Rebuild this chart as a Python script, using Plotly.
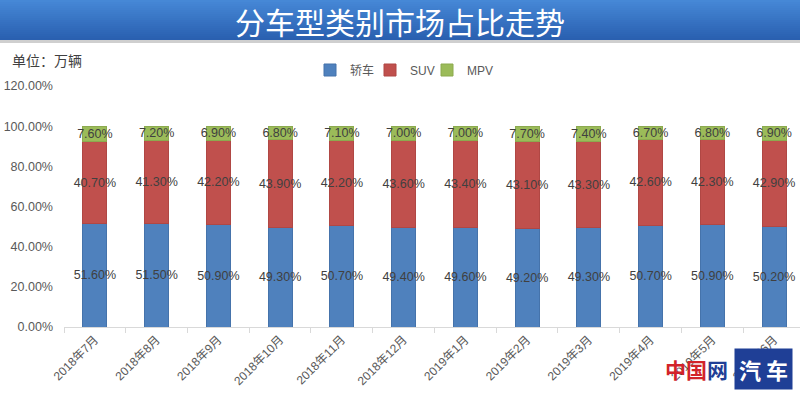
import plotly.graph_objects as go

months = ["2018年7月", "2018年8月", "2018年9月", "2018年10月", "2018年11月", "2018年12月",
          "2019年1月", "2019年2月", "2019年3月", "2019年4月", "2019年5月", "2019年6月"]
sedan = [51.6, 51.5, 50.9, 49.3, 50.7, 49.4, 49.6, 49.2, 49.3, 50.7, 50.9, 50.2]
suv = [40.7, 41.3, 42.2, 43.9, 42.2, 43.6, 43.4, 43.1, 43.3, 42.6, 42.3, 42.9]
mpv = [7.6, 7.2, 6.9, 6.8, 7.1, 7.0, 7.0, 7.7, 7.4, 6.7, 6.8, 6.9]
series_names = ["轿车", "SUV", "MPV"]
colors = ["#4F81BD", "#C0504D", "#9BBB59"]
edge_colors = ["#4573AB", "#B04744", "#8CAA4F"]
legend_ids = ["legend", "legend2", "legend3"]
legend_px = [310, 370, 427]

W, H = 800, 399
L, R, T, B = 64, 0, 86, 72
pw, ph = W - L - R, H - T - B

def px(x):
    return (x - L) / pw

def py(y):
    return (H - B - y) / ph

FONT = "Liberation Sans, Noto Sans CJK SC, sans-serif"

fig = go.Figure()
for name, vals, c, ec, lg in zip(series_names, [sedan, suv, mpv], colors, edge_colors, legend_ids):
    fig.add_trace(go.Bar(
        x=months, y=[v / 100 for v in vals], name=name, legend=lg,
        marker=dict(color=c, line=dict(color=ec, width=1)),
        width=0.39,
        texttemplate="%{y:.2%}", textposition="inside", insidetextanchor="middle",
        textangle=0, constraintext="none",
        textfont=dict(family=FONT, size=12.5, color="#404040"),
        hoverinfo="skip",
    ))

shapes = []
# title banner gradient
top_c = (70, 136, 214)
bot_c = (42, 96, 176)
n = 20
bh = 40.0
for i in range(n):
    t = i / (n - 1)
    c = tuple(int(top_c[k] + (bot_c[k] - top_c[k]) * t) for k in range(3))
    y0 = bh * i / n
    y1 = bh * (i + 1) / n + 0.5
    shapes.append(dict(type="rect", xref="paper", yref="paper",
                       x0=px(0), x1=px(W), y0=py(y1), y1=py(y0),
                       fillcolor="rgb(%d,%d,%d)" % c, line=dict(width=0), layer="above"))
shapes.append(dict(type="rect", xref="paper", yref="paper",
                   x0=px(0), x1=px(W), y0=py(43), y1=py(40),
                   fillcolor="#cfcfcf", line=dict(width=0), layer="above"))

annotations = [
    dict(text="分车型类别市场占比走势", x=px(400), y=py(21), xref="paper", yref="paper",
         showarrow=False, xanchor="center", yanchor="middle",
         font=dict(family="Noto Sans CJK SC", size=30, color="white")),
    dict(text="单位：万辆", x=px(10), y=py(60), xref="paper", yref="paper",
         showarrow=False, xanchor="left", yanchor="middle",
         font=dict(family="Noto Sans CJK SC", size=14, color="#404040")),
    dict(text="<b>中国</b>", x=px(686), y=py(369), xref="paper", yref="paper",
         showarrow=False, xanchor="center", yanchor="middle",
         font=dict(family="Noto Sans CJK SC", size=21, color="#D2232A")),
    dict(text="<b>网</b>", x=px(717), y=py(369), xref="paper", yref="paper",
         showarrow=False, xanchor="center", yanchor="middle",
         font=dict(family="Noto Sans CJK SC", size=21, color="#1F3F96")),
    dict(text="<b>汽 车</b>", x=px(763), y=py(369), xref="paper", yref="paper",
         showarrow=False, xanchor="center", yanchor="middle", bgcolor="#1F3F96",
         borderpad=4,
         font=dict(family="Noto Sans CJK SC", size=22, color="white")),
]

legend_font = dict(family=FONT, size=12, color="#595959")
legends = {}
for lg, lx in zip(legend_ids, legend_px):
    legends[lg] = dict(orientation="h", x=px(lx), y=py(70), xanchor="left", yanchor="middle",
                       itemwidth=30, font=legend_font, bgcolor="rgba(0,0,0,0)")

fig.update_layout(
    width=W, height=H,
    margin=dict(l=L, r=R, t=T, b=B, autoexpand=False),
    paper_bgcolor="white", plot_bgcolor="white",
    barmode="stack",
    showlegend=True,
    shapes=shapes,
    annotations=annotations,
    xaxis=dict(type="category", range=[-0.5, 11.42], tickangle=-45, automargin=False,
               tickson="boundaries", ticks="outside", ticklen=5, tickcolor="#D9D9D9",
               showline=True, linecolor="#D9D9D9", linewidth=1,
               showgrid=False, tickfont=dict(family=FONT, size=12, color="#595959")),
    yaxis=dict(range=[0, 1.2], dtick=0.2, tickformat=".2%", showgrid=False, automargin=False,
               zeroline=False, showline=False, ticks="",
               ticklabelstandoff=10,
               tickfont=dict(family=FONT, size=12.5, color="#595959")),
    **legends,
)

fig.write_html("out.html", config={"displayModeBar": False},
               post_script="document.body.style.margin='0';document.body.style.overflow='hidden';")
